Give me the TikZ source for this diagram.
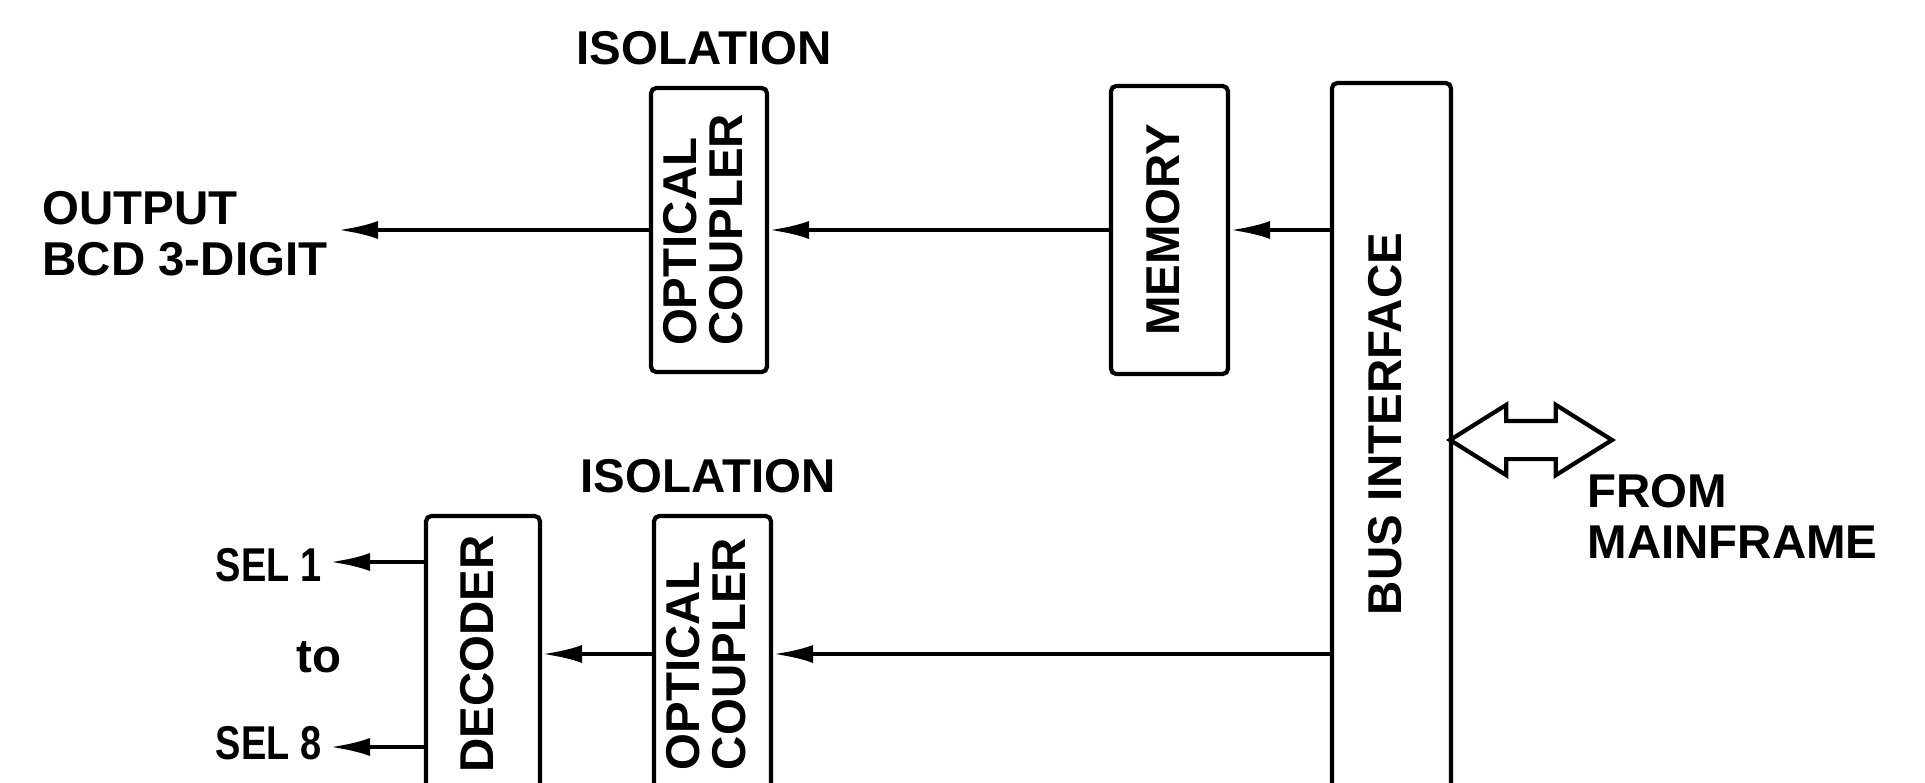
\documentclass[tikz,border=0pt]{standalone}
\usepackage{fontspec}
\setmainfont{Liberation Sans}
\usetikzlibrary{arrows.meta,positioning,shapes.arrows}
\newcommand{\lblfont}{\fontsize{13.5pt}{14.5pt}\selectfont\bfseries}
\newcommand{\vtext}[1]{\rotatebox{90}{\renewcommand{\arraystretch}{0.85}\begin{tabular}{@{}l@{}}#1\end{tabular}}}
\newcommand{\narrow}[1]{\scalebox{0.8}[1]{#1}}

\begin{document}
\begin{tikzpicture}[
  box/.style={draw,line width=1.2pt,rounded corners=1.5pt,inner sep=0pt,
              align=center,font=\lblfont},
  arr/.style={-{Latex[length=4mm,width=1.8mm]},line width=1.3pt},
  lbl/.style={font=\lblfont,inner sep=0pt,align=left},
  bidir/.style={draw,line width=1.2pt,double arrow,inner xsep=0pt,inner ysep=0.17cm,
                double arrow head extend=0.16cm,double arrow tip angle=64,
                minimum height=1.62cm}
]
\useasboundingbox (0,0) rectangle (19.25,-7.82);
% Top row: output path through isolation
\node[lbl] (iso1) at (7.04,-0.48) {ISOLATION};
\node[box,minimum width=1.16cm,minimum height=2.84cm] (opto1) at (7.09,-2.30)
  {\vtext{OPTICAL\\COUPLER}};
\node[box,minimum width=1.17cm,minimum height=2.88cm] (mem) at (11.695,-2.30)
  {\vtext{MEMORY}};
\node[lbl,anchor=west] (out) at (0.42,-2.34) {OUTPUT\\BCD 3-DIGIT};
\coordinate (outend) at (3.38,-2.30);
% Bus interface (runs off the bottom edge)
\node[box,minimum width=1.19cm,minimum height=7.30cm] (bus) at (13.915,-4.48) {};
\node[lbl] (bustxt) at (13.91,-4.24) {\vtext{BUS INTERFACE}};
\node[bidir] (link) at (15.31,-4.40) {};
\node[lbl,anchor=west] (from) at (15.87,-5.16) {FROM\\MAINFRAME};
% Bottom row: select lines
\node[lbl] (iso2) at (7.08,-4.76) {ISOLATION};
\node[box,minimum width=1.14cm,minimum height=2.76cm] (dec) at (4.83,-6.54)
  {\vtext{DECODER}};
\node[box,minimum width=1.17cm,minimum height=2.76cm] (opto2) at (7.125,-6.54)
  {\vtext{OPTICAL\\COUPLER}};
\node[lbl,anchor=west] (sel1) at (2.15,-5.65) {\narrow{SEL 1}};
\node[lbl] (to) at (3.19,-6.57) {to};
\node[lbl,anchor=west] (sel8) at (2.15,-7.43) {\narrow{SEL 8}};
\coordinate (sel1end) at (3.30,-5.62);
\coordinate (sel8end) at (3.30,-7.47);

% Connectors
\draw[arr] (opto1) -- (outend);
\draw[arr] (mem) -- (opto1);
\draw[arr] (bus.west |- mem.east) -- (mem);
\draw[arr] (bus.west |- opto2.east) -- (opto2);
\draw[arr] (opto2) -- (dec);
\draw[arr] (dec.west |- sel1end) -- (sel1end);
\draw[arr] (dec.west |- sel8end) -- (sel8end);
\end{tikzpicture}
\end{document}
